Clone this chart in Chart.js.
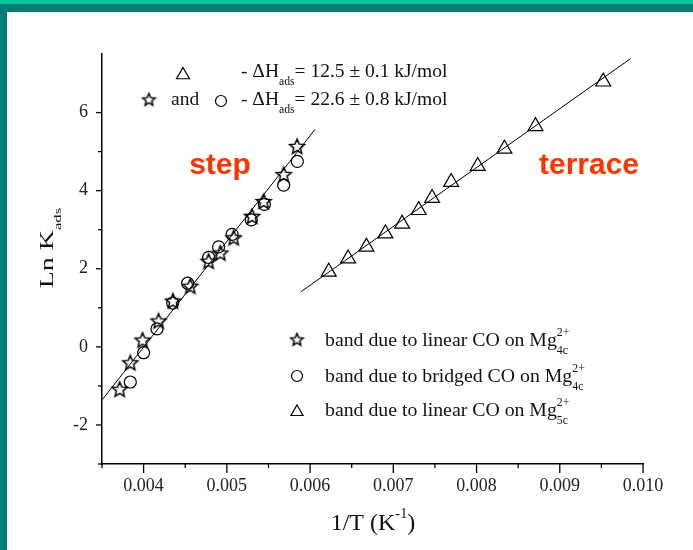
<!DOCTYPE html>
<html>
<head>
<meta charset="utf-8">
<script src="https://cdn.jsdelivr.net/npm/chart.js@4.4.0/dist/chart.umd.min.js"></script>
<style>
  html, body { margin: 0; padding: 0; background: #fff; }
  #quadro { position: relative; width: 693px; height: 550px; overflow: hidden; background: #fff; }
  #quadro canvas { position: absolute; left: 0; top: 0; }
  .faixa { position: absolute; }
  #faixaClara { left: 0; top: 0; width: 693px; height: 4px; background: #00c89a; }
  #faixaEscura { left: 0; top: 4px; width: 693px; height: 8px; background: #007f78; }
  #faixaEsq { left: 0; top: 4px; width: 7px; height: 546px; background: #007f78; }
</style>
</head>
<body>
<div id="quadro">
  <canvas id="grafico" width="693" height="550"></canvas>
  <div class="faixa" id="faixaClara"></div>
  <div class="faixa" id="faixaEscura"></div>
  <div class="faixa" id="faixaEsq"></div>
</div>
<script>
// Ln K_ads x 1/T  -- estrelas: CO linear em Mg4c, circulos: CO em ponte em Mg4c, triangulos: CO linear em Mg5c
const estrelaX = [0.003712, 0.00384, 0.003988, 0.00418, 0.004353, 0.004561, 0.004781, 0.004922, 0.005082, 0.005303, 0.005442, 0.005683, 0.005844];
const estrelaY = [-1.10, -0.42, 0.16, 0.65, 1.16, 1.54, 2.18, 2.39, 2.78, 3.33, 3.71, 4.40, 5.12];
const circuloX = [0.00384, 0.004, 0.004161, 0.004349, 0.004529, 0.004781, 0.004901, 0.005063, 0.005294, 0.005451, 0.005683, 0.005847];
const circuloY = [-0.90, -0.15, 0.46, 1.12, 1.63, 2.29, 2.56, 2.88, 3.25, 3.65, 4.14, 4.75];
const trianguloX = [0.006224, 0.006457, 0.006677, 0.006905, 0.007106, 0.007305, 0.007466, 0.007695, 0.008014, 0.008335, 0.008708, 0.009522];
const trianguloY = [1.92, 2.26, 2.56, 2.90, 3.15, 3.50, 3.81, 4.22, 4.63, 5.07, 5.65, 6.79];

// retas de ajuste (step e terrace)
const retaStepX = [0.0035, 0.00606];
const retaStepY = [-1.36, 5.57];
const retaTerracoX = [0.00589, 0.00985];
const retaTerracoY = [1.41, 7.38];

// rotulos dos eixos
const rotulosX = [0.004, 0.005, 0.006, 0.007, 0.008, 0.009, 0.010];
const rotulosY = [-2, 0, 2, 4, 6];

const fonteSerif = '"Liberation Serif", "Times New Roman", serif';

function juntar(xs, ys) {
  let pontos = [];
  for (let i = 0; i < xs.length; i++) {
    pontos.push({ x: xs[i], y: ys[i] });
  }
  return pontos;
}

function fazerEstrela(raio) {
  const lado = Math.ceil(raio * 2 + 4);
  const c = document.createElement("canvas");
  c.width = lado;
  c.height = lado;
  const g = c.getContext("2d");
  const meio = lado / 2;
  g.beginPath();
  for (let i = 0; i < 10; i++) {
    const r = i % 2 === 0 ? raio : raio * 0.45;
    const ang = -Math.PI / 2 + (i * Math.PI) / 5;
    const px = meio + r * Math.cos(ang);
    const py = meio + r * Math.sin(ang);
    if (i === 0) g.moveTo(px, py);
    else g.lineTo(px, py);
  }
  g.closePath();
  g.strokeStyle = "#000";
  g.lineWidth = 1.5;
  g.lineJoin = "miter";
  g.stroke();
  return c;
}

const estrelaGrande = fazerEstrela(7.8);
const estrelaPequena = fazerEstrela(6.5);

function ehRotulo(lista, v) {
  return lista.some((r) => Math.abs(r - v) < 1e-7);
}

// texto com sub/sobrescrito; partes = strings ou {sup, sub}
function textoRico(ctx, partes, x, y, tam, desenhar) {
  let cx = x;
  partes.forEach((p) => {
    if (typeof p === "string") {
      ctx.font = `${tam}px ${fonteSerif}`;
      if (desenhar) ctx.fillText(p, cx, y);
      cx += ctx.measureText(p).width;
    } else {
      const peq = tam * 0.6;
      ctx.font = `${peq}px ${fonteSerif}`;
      let w = 0;
      if (p.sup) {
        if (desenhar) ctx.fillText(p.sup, cx, y - tam * 0.48);
        w = Math.max(w, ctx.measureText(p.sup).width);
      }
      if (p.sub) {
        if (desenhar) ctx.fillText(p.sub, cx, y + tam * 0.42);
        w = Math.max(w, ctx.measureText(p.sub).width);
      }
      cx += w;
    }
  });
  return cx - x;
}

function triangulo(ctx, x, y, r) {
  ctx.beginPath();
  ctx.moveTo(x, y - r);
  ctx.lineTo(x + r * Math.sin(Math.PI / 3), y + r / 2);
  ctx.lineTo(x - r * Math.sin(Math.PI / 3), y + r / 2);
  ctx.closePath();
  ctx.stroke();
}

function circulo(ctx, x, y, r) {
  ctx.beginPath();
  ctx.arc(x, y, r, 0, Math.PI * 2);
  ctx.stroke();
}

// marcas maiores e menores nos eixos
const marcasEixos = {
  id: "marcasEixos",
  afterDraw(chart) {
    const ctx = chart.ctx;
    const sx = chart.scales.x;
    const sy = chart.scales.y;
    const area = chart.chartArea;
    ctx.save();
    ctx.strokeStyle = "#000";
    ctx.lineWidth = 1.3;
    sx.ticks.forEach((t) => {
      const px = sx.getPixelForValue(t.value);
      const tam = ehRotulo(rotulosX, t.value) ? 9 : 4;
      ctx.beginPath();
      ctx.moveTo(px, area.bottom);
      ctx.lineTo(px, area.bottom + tam);
      ctx.stroke();
    });
    sy.ticks.forEach((t) => {
      if (Math.abs(t.value - Math.round(t.value)) > 1e-6) return;
      const py = sy.getPixelForValue(t.value);
      const tam = ehRotulo(rotulosY, t.value) ? 6 : 4;
      ctx.beginPath();
      ctx.moveTo(area.left, py);
      ctx.lineTo(area.left - tam, py);
      ctx.stroke();
    });
    ctx.restore();
  },
};

// titulos, anotacoes e legenda
const textos = {
  id: "textos",
  afterDraw(chart) {
    const ctx = chart.ctx;
    ctx.save();
    ctx.fillStyle = "#111";
    ctx.strokeStyle = "#000";
    ctx.lineWidth = 1.2;
    ctx.textBaseline = "alphabetic";
    ctx.textAlign = "left";

    // titulo eixo x
    const partesX = ["1/T (K", { sup: "-1" }, ")"];
    const wx = textoRico(ctx, partesX, 0, 0, 24, false);
    textoRico(ctx, partesX, 373 - wx / 2, 530, 24, true);

    // titulo eixo y (esticado no sentido do texto)
    ctx.save();
    ctx.translate(53, 248);
    ctx.rotate(-Math.PI / 2);
    ctx.scale(1.55, 1);
    const partesY = ["Ln K", { sub: "ads" }];
    const wy = textoRico(ctx, partesY, 0, 0, 18, false);
    textoRico(ctx, partesY, -wy / 2, 0, 18, true);
    ctx.restore();

    // entalpias
    triangulo(ctx, 183, 75, 7.5);
    textoRico(ctx, ["- \u0394H", { sub: "ads" }, "= 12.5 \u00b1 0.1 kJ/mol"], 241, 77, 19.5, true);
    ctx.drawImage(estrelaPequena, 149 - estrelaPequena.width / 2, 100 - estrelaPequena.height / 2);
    ctx.font = `19.5px ${fonteSerif}`;
    ctx.fillText("and", 171, 105);
    circulo(ctx, 221, 101, 5.5);
    textoRico(ctx, ["- \u0394H", { sub: "ads" }, "= 22.6 \u00b1 0.8 kJ/mol"], 241, 105, 19.5, true);

    // step / terrace
    ctx.fillStyle = "#ff3300";
    ctx.font = 'bold 30px "Liberation Sans", Arial, sans-serif';
    ctx.textAlign = "center";
    ctx.fillText("step", 220, 174);
    ctx.fillText("terrace", 589, 174);
    ctx.textAlign = "left";
    ctx.fillStyle = "#111";

    // legenda
    ctx.drawImage(estrelaPequena, 297 - estrelaPequena.width / 2, 340 - estrelaPequena.height / 2);
    textoRico(ctx, ["band due to linear CO on Mg", { sup: "2+", sub: "4c" }], 325, 346, 19.8, true);
    circulo(ctx, 297, 376, 5.5);
    textoRico(ctx, ["band due to bridged CO on Mg", { sup: "2+", sub: "4c" }], 325, 382, 19.8, true);
    triangulo(ctx, 297, 412, 7);
    textoRico(ctx, ["band due to linear CO on Mg", { sup: "2+", sub: "5c" }], 325, 416, 19.8, true);

    ctx.restore();
  },
};

const ctx = document.getElementById("grafico").getContext("2d");
const grafico = new Chart(ctx, {
  type: "scatter",
  data: {
    datasets: [
      {
        label: "ajuste step",
        data: juntar(retaStepX, retaStepY),
        showLine: true,
        borderColor: "#000",
        borderWidth: 1,
        pointRadius: 0,
      },
      {
        label: "ajuste terrace",
        data: juntar(retaTerracoX, retaTerracoY),
        showLine: true,
        borderColor: "#000",
        borderWidth: 1,
        pointRadius: 0,
      },
      {
        label: "linear CO on Mg4c",
        data: juntar(estrelaX, estrelaY),
        pointStyle: estrelaGrande,
      },
      {
        label: "bridged CO on Mg4c",
        data: juntar(circuloX, circuloY),
        pointStyle: "circle",
        pointRadius: 6,
        borderColor: "#000",
        borderWidth: 1.2,
        backgroundColor: "rgba(0,0,0,0)",
      },
      {
        label: "linear CO on Mg5c",
        data: juntar(trianguloX, trianguloY),
        pointStyle: "triangle",
        pointRadius: 8.6,
        borderColor: "#000",
        borderWidth: 1.2,
        backgroundColor: "rgba(0,0,0,0)",
      },
    ],
  },
  options: {
    responsive: false,
    animation: false,
    events: [],
    layout: { padding: { top: 54, right: 50, left: 0, bottom: 0 } },
    plugins: {
      legend: { display: false },
      tooltip: { enabled: false },
    },
    scales: {
      x: {
        type: "linear",
        min: 0.0035,
        max: 0.01,
        afterFit: (escala) => {
          escala.height = 86;
        },
        border: { display: true, color: "#000", width: 1.5 },
        grid: { display: false, drawTicks: false },
        ticks: {
          stepSize: 0.0005,
          autoSkip: false,
          maxRotation: 0,
          padding: 11,
          color: "#222",
          font: { family: fonteSerif, size: 18 },
          callback: (v) => (ehRotulo(rotulosX, v) ? v.toFixed(3) : ""),
        },
      },
      y: {
        type: "linear",
        min: -3,
        max: 7.5,
        afterFit: (escala) => {
          escala.width = 102;
        },
        border: { display: true, color: "#000", width: 1.5 },
        grid: { display: false, drawTicks: false },
        ticks: {
          stepSize: 1,
          autoSkip: false,
          padding: 14,
          color: "#222",
          font: { family: fonteSerif, size: 18 },
          callback: (v) => (ehRotulo(rotulosY, v) ? String(v) : ""),
        },
      },
    },
  },
  plugins: [marcasEixos, textos],
});
</script>
</body>
</html>
